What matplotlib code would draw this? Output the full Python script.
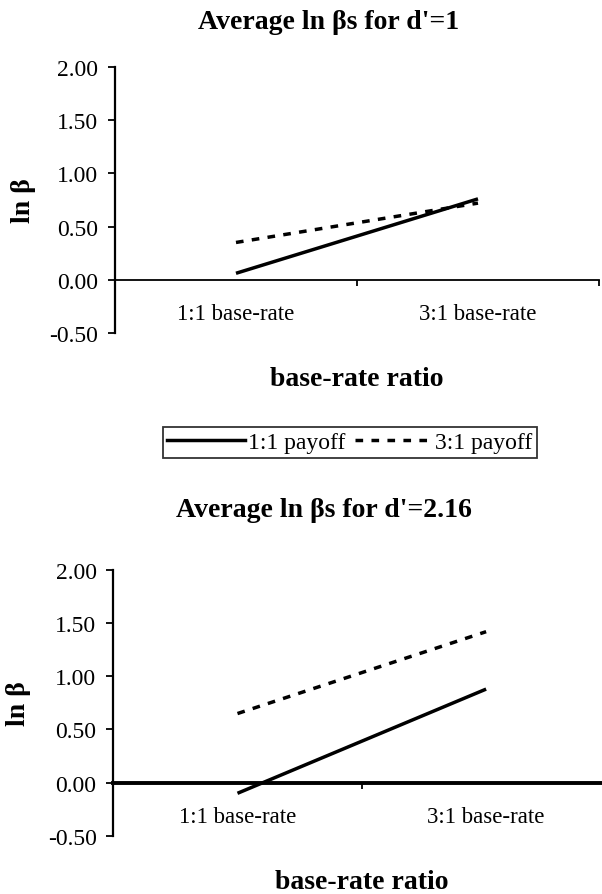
import matplotlib.pyplot as plt
from matplotlib.lines import Line2D

# data
categories = ["1:1 base-rate", "3:1 base-rate"]
d1_payoff_11 = [0.06, 0.76]
d1_payoff_31 = [0.35, 0.72]
d216_payoff_11 = [-0.10, 0.88]
d216_payoff_31 = [0.65, 1.42]
yticks = [-0.5, 0.0, 0.5, 1.0, 1.5, 2.0]
ytick_labels = ["-0.50", "0.00", "0.50", "1.00", "1.50", "2.00"]
series_labels = ["1:1 payoff", "3:1 payoff"]

plt.rcParams['font.family'] = ['Liberation Serif', 'DejaVu Serif']

fig = plt.figure(figsize=(6.02, 8.95), dpi=100)
dash = (0, (2.2, 2.4))


def draw_panel(ax, solid, dashed, xaxis_lw):
    x = range(len(categories))
    ax.plot(x, solid, color='black', lw=2.5, solid_capstyle='butt')
    ax.plot(x, dashed, color='black', lw=2.5, linestyle=dash)
    ax.set_xlim(-0.5, len(categories) - 0.5)
    ax.set_ylim(-0.5, 2.0)
    ax.spines['top'].set_visible(False)
    ax.spines['right'].set_visible(False)
    ax.spines['bottom'].set_position(('data', 0))
    ax.spines['bottom'].set_linewidth(xaxis_lw)
    ax.spines['left'].set_linewidth(1.6)
    ax.set_yticks(yticks)
    ax.set_yticklabels(ytick_labels, fontsize=17)
    ax.tick_params(axis='y', direction='out', length=5, width=1.3, pad=7)
    ax.set_xticks([0.5, 1.5])
    ax.set_xticklabels([])
    ax.tick_params(axis='x', direction='out', length=4, width=1.3)
    for i, cat in enumerate(categories):
        ax.text(i, -0.32, cat, ha='center', va='center', fontsize=16.5)
    ax.text(-0.19, 0.5, "ln β", transform=ax.transAxes, rotation=90,
            ha='center', va='center', fontsize=20, fontweight='bold')
    ax.text(0.5, -0.173, "base-rate ratio", transform=ax.transAxes,
            ha='center', va='center', fontsize=20, fontweight='bold')


ax1 = fig.add_axes([0.191, 0.627, 0.804, 0.297])
draw_panel(ax1, d1_payoff_11, d1_payoff_31, 1.3)
fig.text(0.545, 0.975, "Average ln βs for d'=1", ha='center', va='center',
         fontsize=20, fontweight='bold')

ax2 = fig.add_axes([0.188, 0.065, 0.826, 0.297])
draw_panel(ax2, d216_payoff_11, d216_payoff_31, 2.8)
fig.text(0.538, 0.430, "Average ln βs for d'=2.16", ha='center', va='center',
         fontsize=20, fontweight='bold')

handles = [Line2D([], [], color='black', lw=2.5),
           Line2D([], [], color='black', lw=2.5, linestyle=dash)]
leg = fig.legend(handles, series_labels, loc='center', bbox_to_anchor=(0.581, 0.505),
                 ncol=2, fontsize=17, frameon=True, fancybox=False, edgecolor='black',
                 handlelength=3.3, handletextpad=0.1, columnspacing=0.4,
                 borderpad=0.2, borderaxespad=0)
leg.get_frame().set_linewidth(1.3)

fig.savefig("out.png", dpi=100)
